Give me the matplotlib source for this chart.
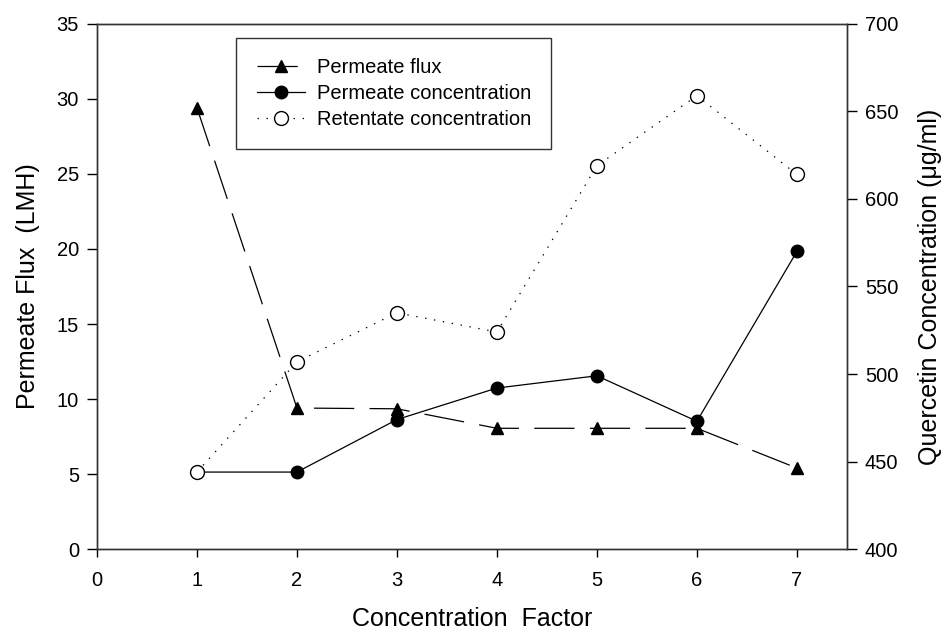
import matplotlib.pyplot as plt

plt.rcParams["font.family"] = ["Liberation Sans", "DejaVu Sans"]
plt.rcParams["lines.scale_dashes"] = False

# data
factor = [1, 2, 3, 4, 5, 6, 7]
flux = [29.4, 9.4, 9.35, 8.05, 8.05, 8.05, 5.4]             # LMH, left axis
perm_conc = [444, 444, 474, 492, 499, 473, 570]           # ug/ml, right axis
ret_conc = [444, 507, 535, 524, 619, 659, 614]            # ug/ml, right axis

fig = plt.figure(figsize=(9.51, 6.37), dpi=100)
ax = fig.add_axes([0.102, 0.138, 0.7885, 0.8245])
ax2 = ax.twinx()

fs = 14.5
lw = 0.9

# permeate flux on left axis
h1, = ax.plot(factor, flux, color="black", lw=lw, dashes=(29, 11),
              marker="^", ms=9, mfc="black", mec="black", zorder=3)

# concentrations on right axis
h2, = ax2.plot(factor, perm_conc, color="black", lw=lw, ls="-",
               marker="o", ms=9, mfc="black", mec="black", zorder=3)
h3, = ax2.plot(factor, ret_conc, color="black", lw=lw, dashes=(1, 5.5),
               marker="o", ms=10, mfc="white", mec="black", mew=1.0, zorder=4)

ax.set_xlim(0, 7.5)
ax.set_ylim(0, 35)
ax2.set_ylim(400, 700)
ax.set_xticks(range(0, 8))
ax.set_yticks(range(0, 36, 5))
ax2.set_yticks(range(400, 701, 50))

ax.set_xlabel("Concentration  Factor", fontsize=18, labelpad=12)
ax.set_ylabel("Permeate Flux  (LMH)", fontsize=18, labelpad=12)
ax2.set_ylabel("Quercetin Concentration (\u03bcg/ml)", fontsize=18, labelpad=14)

for a in (ax, ax2):
    a.tick_params(direction="out", length=7, width=1, labelsize=fs, pad=6)
    for s in a.spines.values():
        s.set_linewidth(1.0)
        s.set_color("#333333")
ax.tick_params(axis="x", length=6, pad=10)

leg = ax.legend([h1, h2, h3],
                ["Permeate flux", "Permeate concentration", "Retentate concentration"],
                loc="upper left", bbox_to_anchor=(0.186, 0.973), fontsize=fs,
                frameon=True, fancybox=False, edgecolor="black",
                handlelength=2.4, handletextpad=0.6, labelspacing=0.35,
                borderpad=1.0, borderaxespad=0)
leg.get_frame().set_linewidth(1.0)
leg.set_zorder(10)

fig.savefig("out.png", dpi=100)
